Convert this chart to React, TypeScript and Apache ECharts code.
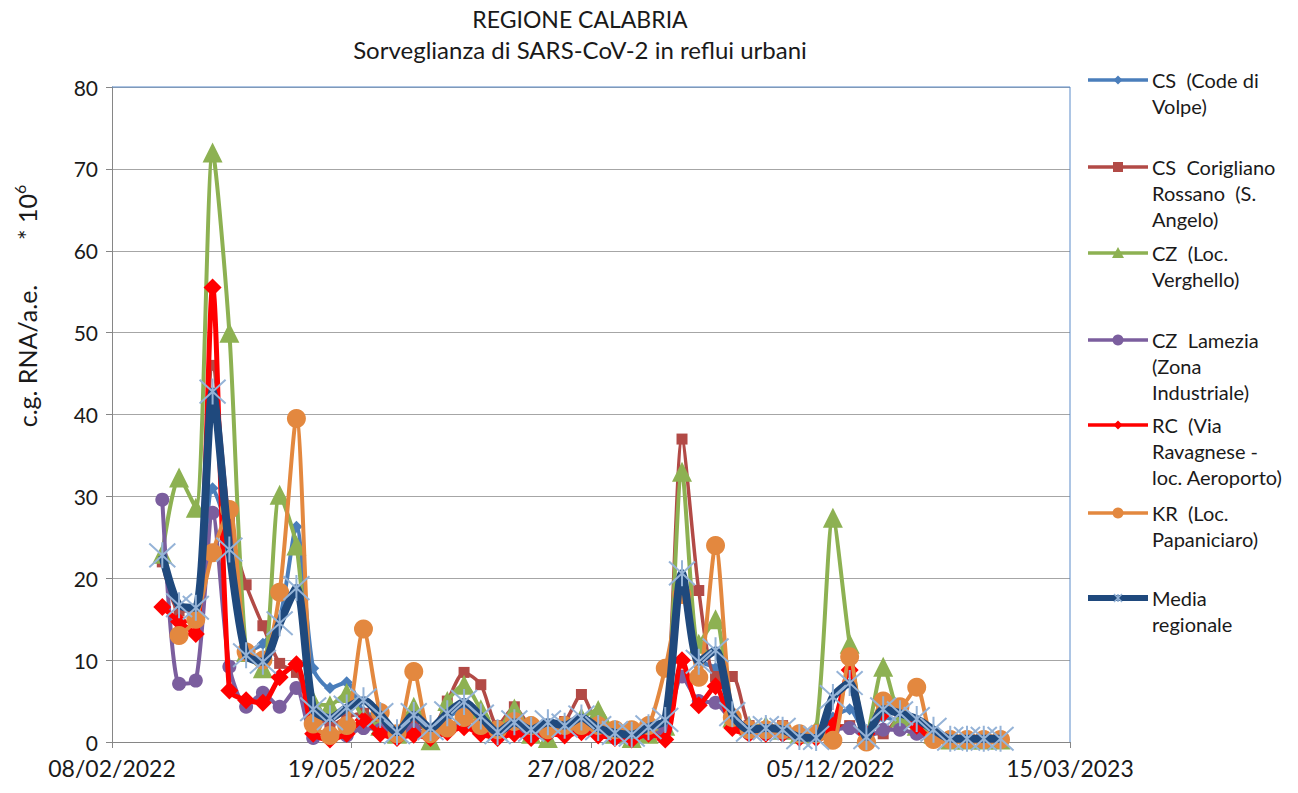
import React, { useEffect, useRef } from "react";
import * as echarts from "echarts";

const BASE = [2022, 2, 8];
const X_MAX_DAYS = 400;
const X_STEP_DAYS = 100;
const Y_MAX = 80;
const Y_STEP = 10;

const dates = [
  "2022-03-01", "2022-03-08", "2022-03-15", "2022-03-22", "2022-03-29",
  "2022-04-05", "2022-04-12", "2022-04-19", "2022-04-26",
  "2022-05-03", "2022-05-10", "2022-05-17", "2022-05-24", "2022-05-31",
  "2022-06-07", "2022-06-14", "2022-06-21", "2022-06-28",
  "2022-07-05", "2022-07-12", "2022-07-19", "2022-07-26",
  "2022-08-02", "2022-08-09", "2022-08-16", "2022-08-23", "2022-08-30",
  "2022-09-06", "2022-09-13", "2022-09-20", "2022-09-27",
  "2022-10-04", "2022-10-11", "2022-10-18", "2022-10-25",
  "2022-11-01", "2022-11-08", "2022-11-15", "2022-11-22", "2022-11-29",
  "2022-12-06", "2022-12-13", "2022-12-20", "2022-12-27",
  "2023-01-03", "2023-01-10", "2023-01-17", "2023-01-24", "2023-01-31",
  "2023-02-07", "2023-02-14",
];

const seriesNames = [
  "CS  (Code di Volpe)",
  "CS  Corigliano Rossano  (S. Angelo)",
  "CZ  (Loc. Verghello)",
  "CZ  Lamezia (Zona Industriale)",
  "RC  (Via Ravagnese - loc. Aeroporto)",
  "KR  (Loc. Papaniciaro)",
  "Media regionale",
];

const legendLines = [
  ["CS  (Code di", "Volpe)"],
  ["CS  Corigliano", "Rossano  (S.", "Angelo)"],
  ["CZ  (Loc.", "Verghello)"],
  ["CZ  Lamezia", "(Zona", "Industriale)"],
  ["RC  (Via", "Ravagnese -", "loc. Aeroporto)"],
  ["KR  (Loc.", "Papaniciaro)"],
  ["Media", "regionale"],
];

const csCodeDiVolpe = [22.5, 16.5, 16, 31, 25, 11, 12, 15, 26.3, 9, 6.6, 7.3, 3.7, 3, 1.5, 3, 1.5, 3, 4, 2.5, 1.5, 2.5, 1.5, 2, 2, 2.5, 1.5, 1, 1, 1.5, 2, 19, 10, 9, 3.5, 1.5, 2, 1.5, 1, 1, 3, 4, 1, 3, 2.5, 1.5, 0.5, 0.5, 0.5, 0.5, 0.5];
const csCorigliano = [22, 16, 16, 46, 27, 19.2, 14.2, 9.6, 8.5, 4, 2, 3, 3.5, 2, 1, 2, 1.5, 5, 8.5, 7, 2, 4.3, 2, 2, 2.5, 5.8, 2, 1.5, 1, 1.5, 2, 37, 18.5, 8, 8, 2, 1.5, 2, 1, 1, 2, 2, 1, 1, 3, 2, 0.5, 0.5, 0.5, 0.5, 0.5];
const czVerghello = [23, 32.3, 28.6, 72, 50, 11, 9, 30.2, 24, 5, 4.5, 6, 3, 2, 1, 4.3, 0.2, 5, 7, 4, 1.5, 4.1, 1, 0.5, 2, 3, 3.9, 1, 0.5, 1, 2, 33, 12, 15, 3, 2, 2, 1.5, 1, 1.5, 27.4, 12, 1, 9.2, 3, 2, 1, 0.3, 0.3, 0.3, 0.3];
const czLamezia = [29.6, 7.1, 7.5, 28, 9.2, 4.3, 6, 4.3, 6.6, 0.5, 0.5, 0.8, 1.7, 1.5, 1, 1.5, 1, 2, 2, 1.5, 1, 1.5, 1, 1, 1.5, 1.5, 1, 0.5, 0.5, 1, 1.5, 8, 5, 4.8, 2.5, 1, 1, 1, 1, 1, 1.5, 1.7, 0.5, 1.5, 1.5, 1, 0.3, 0.3, 0.3, 0.3, 0.3];
const rcRavagnese = [16.5, 14.7, 13.2, 55.5, 6.3, 5.1, 4.8, 7.9, 9.5, 1, 0.3, 1, 2.7, 1, 0.5, 0.9, 0.5, 1.2, 1.8, 1, 0.5, 1, 0.5, 1, 0.8, 1.2, 0.8, 0.5, 0.3, 1, 0.3, 10, 4.5, 6.8, 1.7, 1, 1, 1, 0.5, 0.5, 2, 8.8, 1, 3.5, 4, 2, 0.3, 0.3, 0.3, 0.3, 0.3];
const krPapaniciaro = [null, 13, 15, 23.1, 28.4, 11, 10, 18.3, 39.5, 2.2, 0.8, 2, 13.8, 3.6, 1, 8.6, 1, 1.7, 3, 2, 1.5, 2.5, 2, 1.5, 2, 2, 2, 1.5, 1.5, 2, 9, 18, 7.9, 24, 3, 1.5, 1.5, 1.5, 1, 1, 0.2, 10.4, 0, 5, 4.3, 6.7, 0.3, 0.3, 0.3, 0.3, 0.3];
const mediaRegionale = [22.8, 16.7, 16.4, 42.8, 23.5, 10.6, 9.8, 14.5, 18.8, 4.0, 2.9, 4.2, 5.1, 3.3, 1.2, 3.3, 1.7, 3.5, 4.9, 3.1, 1.2, 2.4, 1.5, 2.4, 2.0, 3.0, 1.7, 1.1, 0.9, 1.8, 2.7, 20.6, 9.8, 11.2, 3.4, 1.5, 1.7, 1.5, 0.6, 0.5, 5.5, 7.2, 0.6, 4.0, 3.5, 2.8, 1.5, 0.4, 0.4, 0.4, 0.4];

const allValues = [csCodeDiVolpe, csCorigliano, czVerghello, czLamezia, rcRavagnese, krPapaniciaro, mediaRegionale];

const FONT = "Lato, 'Open Sans', sans-serif";
const TEXT = "#1a1a1a";
const STAR = "path://M0,0L20,20M20,0L0,20M10,-1L10,21";

const styles = [
  { color: "#4A7EBB", width: 4, symbol: "diamond", size: 12, legendMarker: "diamond" },
  { color: "#B24A46", width: 3.5, symbol: "rect", size: 11, legendMarker: "rect" },
  { color: "#8DB152", width: 4, symbol: "triangle", size: 20, legendMarker: "triangle" },
  { color: "#7B5E9E", width: 4, symbol: "circle", size: 14, legendMarker: "circle" },
  { color: "#FF0000", width: 5, symbol: "diamond", size: 18, legendMarker: "diamond" },
  { color: "#E3883F", width: 4, symbol: "circle", size: 19, legendMarker: "circle" },
  { color: "#1F497D", width: 8, symbol: STAR, size: 26, legendMarker: "star" },
];

const BASE_MS = Date.UTC(BASE[0], BASE[1] - 1, BASE[2]);
const DAY = 86400000;
function dayOf(s: string) {
  const [y, m, d] = s.split("-").map(Number);
  return (Date.UTC(y, m - 1, d) - BASE_MS) / DAY;
}
function fmt(v: number) {
  const dt = new Date(BASE_MS + v * DAY);
  const dd = String(dt.getUTCDate()).padStart(2, "0");
  const mm = String(dt.getUTCMonth() + 1).padStart(2, "0");
  return `${dd}/${mm}/${dt.getUTCFullYear()}`;
}

const GRID = { left: 112, right: 228, top: 87, bottom: 51 };
const LEGEND_Y = [80, 167, 253, 340, 425, 513, 598];

function legendGraphics() {
  const out: any[] = [];
  const x1 = 1088, x2 = 1148, mx = 1118;
  styles.forEach((s, k) => {
    const y = LEGEND_Y[k];
    out.push({ type: "line", shape: { x1, y1: y, x2, y2: y }, style: { stroke: s.color, lineWidth: k === 6 ? 6 : 3.5 }, z: 10 });
    const m = s.legendMarker;
    if (m === "diamond") {
      const r = 4.5;
      out.push({ type: "polygon", shape: { points: [[mx, y - r], [mx + r, y], [mx, y + r], [mx - r, y]] }, style: { fill: s.color }, z: 11 });
    } else if (m === "rect") {
      out.push({ type: "rect", shape: { x: mx - 5, y: y - 5, width: 10, height: 10 }, style: { fill: s.color }, z: 11 });
    } else if (m === "triangle") {
      out.push({ type: "polygon", shape: { points: [[mx, y - 6], [mx + 6, y + 5], [mx - 6, y + 5]] }, style: { fill: s.color }, z: 11 });
    } else if (m === "circle") {
      out.push({ type: "circle", shape: { cx: mx, cy: y, r: 5.5 }, style: { fill: s.color }, z: 11 });
    } else {
      const r = 4;
      out.push({ type: "line", shape: { x1: mx - r, y1: y - r, x2: mx + r, y2: y + r }, style: { stroke: "#95B3D7", lineWidth: 1.5 }, z: 11 });
      out.push({ type: "line", shape: { x1: mx - r, y1: y + r, x2: mx + r, y2: y - r }, style: { stroke: "#95B3D7", lineWidth: 1.5 }, z: 11 });
      out.push({ type: "line", shape: { x1: mx, y1: y - r, x2: mx, y2: y + r }, style: { stroke: "#95B3D7", lineWidth: 1.5 }, z: 11 });
    }
    out.push({
      type: "text",
      style: { text: legendLines[k].join("\n"), x: 1152, y: y - 13, fill: TEXT, font: `20px ${FONT}`, lineHeight: 26, verticalAlign: "top", align: "left" },
      z: 11,
    });
  });
  return out;
}

export default function App() {
  const ref = useRef<HTMLDivElement>(null);
  useEffect(() => {
    if (!ref.current) return;
    const chart = echarts.init(ref.current, null, { renderer: "svg" });
    const series = allValues.map((vals, k) => {
      const s = styles[k];
      const data = dates
        .map((d, i) => [dayOf(d), vals[i]])
        .filter((p) => p[1] !== null && p[1] !== undefined);
      return {
        name: seriesNames[k],
        type: "line",
        data,
        smooth: 0.25,
        symbol: s.symbol,
        symbolSize: s.size,
        showAllSymbol: true,
        lineStyle: { color: s.color, width: s.width },
        itemStyle: k === 6
          ? { color: "rgba(0,0,0,0)", borderColor: "#95B3D7", borderWidth: 2 }
          : { color: s.color, borderColor: s.color, borderWidth: 0 },
        emphasis: { disabled: true },
        z: 2 + k,
      };
    });
    chart.setOption({
      animation: false,
      textStyle: { fontFamily: FONT },
      grid: { ...GRID },
      xAxis: {
        type: "value",
        min: 0,
        max: X_MAX_DAYS,
        interval: X_STEP_DAYS,
        axisLine: { show: true, lineStyle: { color: "#868686", width: 1 } },
        axisTick: { show: true, length: 6, lineStyle: { color: "#868686" } },
        splitLine: { show: false },
        axisLabel: { formatter: (v: number) => fmt(v), color: TEXT, fontSize: 23, margin: 14, fontFamily: FONT },
      },
      yAxis: {
        type: "value",
        min: 0,
        max: Y_MAX,
        interval: Y_STEP,
        axisLine: { show: true, lineStyle: { color: "#868686", width: 1 } },
        axisTick: { show: true, length: 6, lineStyle: { color: "#868686" } },
        splitLine: { show: true, lineStyle: { color: "#A6A6A6", width: 1 } },
        axisLabel: { color: TEXT, fontSize: 21, margin: 14, fontFamily: FONT },
      },
      graphic: [
        { type: "text", style: { text: "REGIONE CALABRIA", x: 580, y: 19, align: "center", verticalAlign: "middle", fill: TEXT, font: `23px ${FONT}` } },
        { type: "text", style: { text: "Sorveglianza di SARS-CoV-2 in reflui urbani", x: 580, y: 49, align: "center", verticalAlign: "middle", fill: TEXT, font: `24px ${FONT}` } },
        {
          type: "text",
          x: 27,
          y: 306,
          rotation: Math.PI / 2,
          style: {
            text: "{a|c.g. RNA/a.e.       * 10}{b|6}",
            align: "center",
            verticalAlign: "middle",
            fill: TEXT,
            rich: {
              a: { fontSize: 25, fontFamily: FONT, fill: TEXT, lineHeight: 32 },
              b: { fontSize: 16, fontFamily: FONT, fill: TEXT, lineHeight: 32, verticalAlign: "top" },
            },
          },
        },
        { type: "line", shape: { x1: GRID.left, y1: GRID.top, x2: 1298 - GRID.right, y2: GRID.top }, style: { stroke: "#5B8BC9", lineWidth: 1 }, z: 1 },
        { type: "line", shape: { x1: 1298 - GRID.right, y1: GRID.top, x2: 1298 - GRID.right, y2: 793 - GRID.bottom }, style: { stroke: "#5B8BC9", lineWidth: 1 }, z: 1 },
        ...legendGraphics(),
      ],
      series,
    });
    return () => chart.dispose();
  }, []);
  return <div ref={ref} style={{ position: "fixed", left: 0, top: 0, width: 1298, height: 793, background: "#fff" }} />;
}
